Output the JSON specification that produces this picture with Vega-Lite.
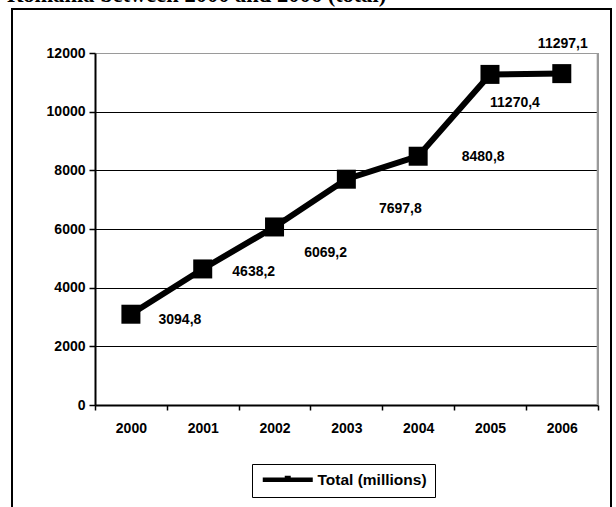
{
  "$schema": "https://vega.github.io/schema/vega-lite/v6.json",
  "width": 599,
  "height": 505,
  "autosize": "none",
  "padding": {"left": 12, "top": 9, "right": 5, "bottom": 0},
  "background": "white",
  "view": {"stroke": "black", "strokeWidth": 2},
  "title": {
    "text": "Romania between 2000 and 2006 (total)",
    "font": "Liberation Serif",
    "fontSize": 22.5,
    "fontWeight": "bold",
    "color": "black",
    "anchor": "start",
    "frame": "group",
    "baseline": "alphabetic",
    "offset": -15,
    "dx": -5
  },
  "data": {
    "values": [
      {"year": "2000", "total": 3094.8, "label": "3094,8"},
      {"year": "2001", "total": 4638.2, "label": "4638,2"},
      {"year": "2002", "total": 6069.2, "label": "6069,2"},
      {"year": "2003", "total": 7697.8, "label": "7697,8"},
      {"year": "2004", "total": 8480.8, "label": "8480,8"},
      {"year": "2005", "total": 11270.4, "label": "11270,4"},
      {"year": "2006", "total": 11297.1, "label": "11297,1"}
    ]
  },
  "encoding": {
    "x": {
      "field": "year",
      "type": "ordinal",
      "scale": {"type": "band", "range": [83, 585.7], "paddingInner": 0, "paddingOuter": 0},
      "axis": {
        "title": null,
        "orient": "bottom",
        "offset": -109,
        "labelAngle": 0,
        "tickBand": "extent",
        "tickSize": 5,
        "tickWidth": 1.5,
        "tickColor": "black",
        "domainColor": "black",
        "domainWidth": 2,
        "grid": false,
        "labelFont": "Liberation Sans",
        "labelFontSize": 14,
        "labelFontWeight": "bold",
        "labelColor": "black",
        "labelPadding": 11
      }
    },
    "y": {
      "field": "total",
      "type": "quantitative",
      "scale": {"domain": [0, 12000], "range": [396, 44], "nice": false},
      "axis": {
        "title": null,
        "orient": "left",
        "offset": -83,
        "values": [0, 2000, 4000, 6000, 8000, 10000, 12000],
        "format": "d",
        "grid": true,
        "gridColor": {"condition": {"test": "datum.value === 12000", "value": "#9a9a9a"}, "value": "black"},
        "gridWidth": 1,
        "domainColor": "black",
        "domainWidth": 2,
        "tickColor": "black",
        "tickSize": 6,
        "tickWidth": 1.5,
        "labelFont": "Liberation Sans",
        "labelFontSize": 14,
        "labelFontWeight": "bold",
        "labelColor": "black",
        "labelPadding": 4
      }
    }
  },
  "layer": [
    {
      "mark": {"type": "line", "color": "black", "strokeWidth": 6}
    },
    {
      "mark": {"type": "point", "shape": "square", "filled": true, "size": 361, "opacity": 1},
      "encoding": {
        "color": {
          "datum": "Total (millions)",
          "scale": {"range": ["black"]},
          "legend": {
            "orient": "none",
            "legendX": 240,
            "legendY": 455,
            "title": null,
            "symbolType": "M-5,-0.45H5V0.45H-5Z M-0.6,-0.8H0.6V0.45H-0.6Z",
            "symbolSize": 100,
            "symbolOffset": 20,
            "symbolFillColor": "black",
            "symbolStrokeWidth": 0,
            "labelFont": "Liberation Sans",
            "labelFontSize": 15.5,
            "labelFontWeight": "bold",
            "labelColor": "black",
            "labelOffset": 22,
            "padding": 8,
            "strokeColor": "black",
            "fillColor": "white"
          }
        }
      }
    },
    {
      "transform": [{"filter": "datum.year == '2000'"}],
      "mark": {"type": "text", "dx": 49, "dy": 6, "font": "Liberation Sans", "fontSize": 14, "fontWeight": "bold", "color": "black"},
      "encoding": {"text": {"field": "label"}}
    },
    {
      "transform": [{"filter": "datum.year == '2001'"}],
      "mark": {"type": "text", "dx": 51, "dy": 3, "font": "Liberation Sans", "fontSize": 14, "fontWeight": "bold", "color": "black"},
      "encoding": {"text": {"field": "label"}}
    },
    {
      "transform": [{"filter": "datum.year == '2002'"}],
      "mark": {"type": "text", "dx": 51, "dy": 26, "font": "Liberation Sans", "fontSize": 14, "fontWeight": "bold", "color": "black"},
      "encoding": {"text": {"field": "label"}}
    },
    {
      "transform": [{"filter": "datum.year == '2003'"}],
      "mark": {"type": "text", "dx": 54, "dy": 30, "font": "Liberation Sans", "fontSize": 14, "fontWeight": "bold", "color": "black"},
      "encoding": {"text": {"field": "label"}}
    },
    {
      "transform": [{"filter": "datum.year == '2004'"}],
      "mark": {"type": "text", "dx": 65, "dy": 1, "font": "Liberation Sans", "fontSize": 14, "fontWeight": "bold", "color": "black"},
      "encoding": {"text": {"field": "label"}}
    },
    {
      "transform": [{"filter": "datum.year == '2005'"}],
      "mark": {"type": "text", "dx": 25, "dy": 29, "font": "Liberation Sans", "fontSize": 14, "fontWeight": "bold", "color": "black"},
      "encoding": {"text": {"field": "label"}}
    },
    {
      "transform": [{"filter": "datum.year == '2006'"}],
      "mark": {"type": "text", "dx": 1, "dy": -30, "font": "Liberation Sans", "fontSize": 14, "fontWeight": "bold", "color": "black"},
      "encoding": {"text": {"field": "label"}}
    },
    {
      "mark": {"type": "rule", "color": "#9a9a9a", "strokeWidth": 1.5},
      "encoding": {
        "x": {"datum": "2006", "type": "ordinal", "bandPosition": 1},
        "y": {"datum": 0, "type": "quantitative"},
        "y2": {"datum": 12000}
      }
    }
  ]
}
